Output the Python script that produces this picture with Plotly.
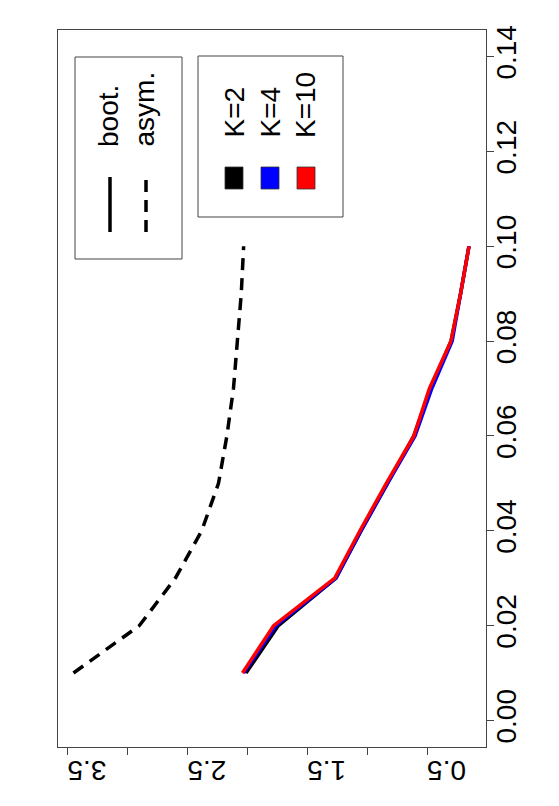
import plotly.graph_objects as go

# 原图是 R 的折线图整体逆时针旋转了 90 度：
# 横轴 = 原来的纵轴（反向），右侧竖轴 = 原来的横轴

sig_level = [0.01, 0.02, 0.03, 0.04, 0.05, 0.06, 0.07, 0.08, 0.09, 0.10]
boot_k2 = [2.01, 1.74, 1.26, 1.05, 0.83, 0.61, 0.47, 0.30, 0.22, 0.15]
boot_k4 = [2.03, 1.76, 1.26, 1.05, 0.83, 0.60, 0.46, 0.29, 0.22, 0.15]
boot_k10 = [2.04, 1.78, 1.27, 1.06, 0.84, 0.61, 0.48, 0.30, 0.22, 0.15]
asym = [3.45, 2.90, 2.60, 2.38, 2.24, 2.17, 2.115, 2.08, 2.05, 2.03]

k_labels = ['K=2', 'K=4', 'K=10']
k_colors = ['black', 'blue', 'red']

val_ticks = [0.5, 1.0, 1.5, 2.0, 2.5, 3.0, 3.5]
val_tick_text = ['0.5', '', '1.5', '', '2.5', '', '3.5']
sig_ticks = [0.00, 0.02, 0.04, 0.06, 0.08, 0.10, 0.12, 0.14]
sig_tick_text = ['0.00', '0.02', '0.04', '0.06', '0.08', '0.10', '0.12', '0.14']

# 页面 body 默认有 8px 外边距，所以图本身小一圈
OFF = 8
W, H = 559 - 2 * OFF, 806 - 2 * OFF
# 绘图区在页面上的像素边界
L, R, T, B = 58, 486, 30, 747
FONT = 'Liberation Sans, Arial, sans-serif'
DASH = '12px,8px'


def px(X):
    """页面像素横坐标 -> paper 坐标"""
    return (X - L) / (R - L)


def py(Y):
    """页面像素纵坐标 -> paper 坐标"""
    return (B - Y) / (B - T)


fig = go.Figure()

fig.add_trace(go.Scatter(x=asym, y=sig_level, mode='lines',
                         line=dict(color='black', width=3.5, dash=DASH)))
for vals, color in zip([boot_k2, boot_k4, boot_k10], k_colors):
    fig.add_trace(go.Scatter(x=vals, y=sig_level, mode='lines',
                             line=dict(color=color, width=3.5)))

shapes = []
annotations = []

# 左边的图例：boot. / asym.
shapes.append(dict(type='rect', xref='paper', yref='paper',
                   x0=px(75), x1=px(182), y0=py(259), y1=py(57),
                   line=dict(color='#444', width=1)))
for X, dash, text in [(110, 'solid', 'boot.'), (146, DASH, 'asym.')]:
    shapes.append(dict(type='line', xref='paper', yref='paper',
                       x0=px(X), x1=px(X), y0=py(232), y1=py(177),
                       line=dict(color='black', width=3.5, dash=dash)))
    annotations.append(dict(x=px(X - 2), y=py(149), xref='paper', yref='paper',
                            text=text, textangle=-90, showarrow=False,
                            xanchor='center', yanchor='bottom',
                            font=dict(family=FONT, size=28, color='black')))

# 右边的图例：K 的颜色
shapes.append(dict(type='rect', xref='paper', yref='paper',
                   x0=px(198), x1=px(343), y0=py(217), y1=py(56),
                   line=dict(color='#444', width=1)))
for i, (lab, color) in enumerate(zip(k_labels, k_colors)):
    X = 234 + 36 * i
    shapes.append(dict(type='rect', xref='paper', yref='paper',
                       x0=px(X - 9), x1=px(X + 9), y0=py(189), y1=py(167),
                       fillcolor=color, line=dict(color='#333', width=0.8)))
    annotations.append(dict(x=px(X), y=py(140), xref='paper', yref='paper',
                            text=lab, textangle=-90, showarrow=False,
                            xanchor='center', yanchor='bottom',
                            font=dict(family=FONT, size=28, color='black')))

fig.update_layout(
    width=W, height=H,
    margin=dict(l=L - OFF, r=W - (R - OFF), t=T - OFF, b=H - (B - OFF)),
    paper_bgcolor='white', plot_bgcolor='white',
    showlegend=False,
    shapes=shapes, annotations=annotations,
    font=dict(family=FONT, color='black'),
)
fig.update_xaxes(range=[3.579, 0.008], tickvals=val_ticks, ticktext=val_tick_text,
                 tickangle=180, ticks='outside', ticklen=7, tickcolor='#444',
                 showline=True, mirror=True, linecolor='#444', linewidth=1,
                 showgrid=False, zeroline=False, tickfont=dict(size=28))
fig.update_yaxes(range=[-0.0056, 0.1456], tickvals=sig_ticks, ticktext=sig_tick_text,
                 side='right', tickangle=-90, ticks='outside', ticklen=7, tickcolor='#444',
                 ticklabelstandoff=-12,
                 showline=True, mirror=True, linecolor='#444', linewidth=1,
                 showgrid=False, zeroline=False, tickfont=dict(size=28))

fig.write_html("out.html")
